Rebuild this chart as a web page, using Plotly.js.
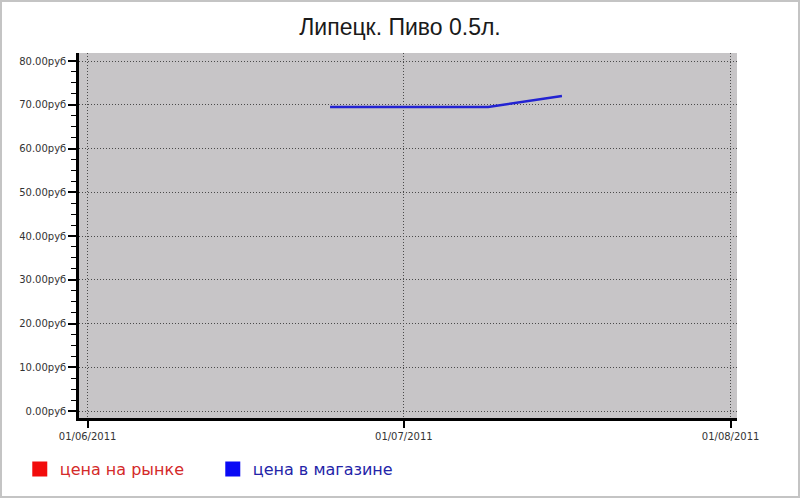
<!DOCTYPE html>
<html>
<head>
<meta charset="utf-8">
<script src="https://cdn.plot.ly/plotly-3.0.1.min.js"></script>
<style>
  body { margin: 0; background: #fff; }
  #chart { width: 800px; height: 498px; outline: 2px solid #c4c4c4; outline-offset: -2px; }
</style>
</head>
<body>
<div id="chart"></div>
<script>
// price in shop, rub
const shopDates = ['2011-06-24', '2011-07-09', '2011-07-16'];
const shopPrice = [69.5, 69.5, 72.0];
// market price: no values on the picture (kept as one missing point so the legend entry shows)
const marketDates = [null];
const marketPrice = [null];

const xTicks = ['2011-06-01', '2011-07-01', '2011-08-01'];

const shop = {
    x: shopDates,
    y: shopPrice,
    type: 'scatter',
    mode: 'lines',
    showlegend: false,
    line: { color: '#2323d2', width: 2.5 }
};
const marketLegend = {
    x: marketDates,
    y: marketPrice,
    type: 'bar',
    name: '<span style="color:#d42a2a">цена на рынке</span>',
    marker: { color: '#f20c0c', line: { color: '#f20c0c', width: 3 } }
};
const shopLegend = {
    x: marketDates,
    y: marketPrice,
    type: 'bar',
    name: '<span style="color:#2424a8">цена в магазине</span>',
    marker: { color: '#0a0af5', line: { color: '#0a0af5', width: 3 } }
};

Plotly.newPlot('chart', [shop, marketLegend, shopLegend], {
    width: 800,
    height: 498,
    paper_bgcolor: 'rgba(0,0,0,0)',
    plot_bgcolor: '#c7c5c7',
    margin: { l: 79, r: 63, t: 53, b: 80 },
    title: {
        text: 'Липецк. Пиво 0.5л.',
        font: { family: 'Liberation Sans, Arial', size: 23, color: '#1a1a1a' },
        x: 0.5, xanchor: 'center',
        y: 0.946, yanchor: 'middle'
    },
    font: { family: 'DejaVu Sans', size: 10, color: '#333' },
    showlegend: true,
    legend: {
        orientation: 'h',
        x: -0.09, xanchor: 'left',
        y: -0.14, yanchor: 'middle',
        font: { family: 'DejaVu Sans', size: 16 },
        entrywidth: 148,
        bgcolor: 'rgba(0,0,0,0)'
    },
    xaxis: {
        type: 'date',
        range: ['2011-05-31 04:24', '2011-08-01 14:34'],
        tickvals: xTicks,
        tickformat: '%d/%m/%Y',
        ticks: 'outside', ticklen: 7, tickwidth: 2, tickcolor: '#000',
        showline: true, linecolor: '#000', linewidth: 2.5,
        showgrid: true, gridcolor: '#4a4a4a', griddash: '1px,2px', gridwidth: 1,
        zeroline: false,
        tickfont: { size: 10, color: '#333' }
    },
    yaxis: {
        range: [-1.6, 81.83],
        dtick: 10, tick0: 0,
        tickformat: '.2f',
        ticksuffix: 'руб',
        ticks: 'outside', ticklen: 8, tickwidth: 2, tickcolor: '#000',
        minor: { dtick: 2.5, ticks: 'outside', ticklen: 5, tickwidth: 1.2, tickcolor: '#000', showgrid: false },
        showline: true, linecolor: '#000', linewidth: 2.5,
        showgrid: true, gridcolor: '#4a4a4a', griddash: '1px,2px', gridwidth: 1,
        zeroline: false,
        tickfont: { size: 10, color: '#333' }
    }
}, { displayModeBar: false });
</script>
</body>
</html>
